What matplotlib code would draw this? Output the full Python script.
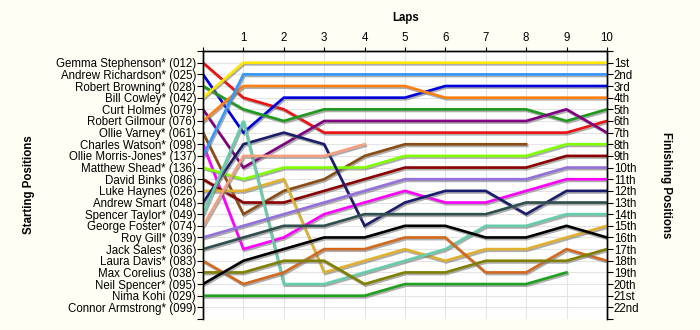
import matplotlib
matplotlib.use("Agg")
import matplotlib.pyplot as plt
import matplotlib.patheffects as pe

plt.rcParams["font.family"] = ["Liberation Sans", "DejaVu Sans"]

laps = list(range(0, 11))

drivers = [
    "Gemma Stephenson* (012)", "Andrew Richardson* (025)", "Robert Browning* (028)",
    "Bill Cowley* (042)", "Curt Holmes (079)", "Robert Gilmour (076)",
    "Ollie Varney* (061)", "Charles Watson* (098)", "Ollie Morris-Jones* (137)",
    "Matthew Shead* (136)", "David Binks (086)", "Luke Haynes (026)",
    "Andrew Smart (048)", "Spencer Taylor* (049)", "George Foster* (074)",
    "Roy Gill* (039)", "Jack Sales* (036)", "Laura Davis* (083)",
    "Max Corelius (038)", "Neil Spencer* (095)", "Nima Kohi (029)",
    "Connor Armstrong* (099)",
]

# position at the end of each lap (lap 0 = grid); short lists = retired
positions = [
    [1, 4, 5, 7, 7, 7, 7, 7, 7, 7, 6],
    [2, 7, 4, 4, 4, 4, 3, 3, 3, 3, 3],
    [3, 5, 6, 5, 5, 5, 5, 5, 5, 6, 5],
    [4, 1, 1, 1, 1, 1, 1, 1, 1, 1, 1],
    [5, 10, 8, 6, 6, 6, 6, 6, 6, 5, 7],
    [6, 3, 3, 3, 3, 3, 4, 4, 4, 4, 4],
    [7, 14, 12, 11, 9, 8, 8, 8, 8],
    [8, 17, 16, 14, 13, 12, 13, 13, 12, 11, 11],
    [9, 2, 2, 2, 2, 2, 2, 2, 2, 2, 2],
    [10, 11, 10, 10, 10, 9, 9, 9, 9, 8, 8],
    [11, 13, 13, 12, 11, 10, 10, 10, 10, 9, 9],
    [12, 12, 11, 19, 18, 17, 18, 17, 17, 16, 15],
    [13, 8, 7, 8, 15, 13, 12, 12, 14, 12, 12],
    [14, 6, 20, 20, 19, 18, 17, 15, 15, 14, 14],
    [15, 9, 9, 9, 8],
    [16, 15, 14, 13, 12, 11, 11, 11, 11, 10, 10],
    [17, 16, 15, 15, 14, 14, 14, 14, 13, 13, 13],
    [18, 20, 19, 17, 17, 16, 16, 19, 19, 17, 18],
    [19, 19, 18, 18, 20, 19, 19, 18, 18, 18, 17],
    [20, 18, 17, 16, 16, 15, 15, 16, 16, 15, 16],
    [21, 21, 21, 21, 21, 20, 20, 20, 20, 19],
    [],
]

colors = [
    "#ee1111", "#0000dd", "#1f9a1f", "#ffe600", "#800080", "#ff8010",
    "#8b4c13", "#ff00ff", "#3399ff", "#80ff00", "#8b0000", "#e0b030",
    "#1c1c6c", "#66cdaa", "#f4a080", "#9370db", "#2f4f4f", "#d2691e",
    "#808000", "#000000", "#1fa01f", "#888888",
]

finish_labels = ["1st", "2nd", "3rd", "4th", "5th", "6th", "7th", "8th", "9th",
                 "10th", "11th", "12th", "13th", "14th", "15th", "16th", "17th",
                 "18th", "19th", "20th", "21st", "22nd"]

bg = "#fffef4"
fs = 8.3
fig = plt.figure(figsize=(7, 3.3), dpi=100, facecolor=bg)
ax = fig.add_axes([0.29, 0.0333, 0.577, 0.812])
ax.set_facecolor("white")

n = len(drivers)
ax.set_xlim(0, 10)
ax.set_ylim(n + 1, 0)

for x in laps[1:]:
    ax.axvline(x, color="#e4e4e4", lw=0.8, zorder=0)
for y in range(1, n + 1):
    ax.axhline(y, color="#e4e4e4", lw=0.8, zorder=0)

shadow = [pe.SimpleLineShadow(offset=(0.8, -1.2), shadow_color="#777777", alpha=0.6),
          pe.Normal()]
for pos, c in zip(positions, colors):
    if not pos:
        continue
    ax.plot(laps[:len(pos)], pos, color=c, lw=1.9, solid_joinstyle="miter",
            path_effects=shadow, zorder=3)

# left: grid order
ax.set_yticks(range(0, n + 2))
ax.set_yticklabels([""] + drivers + [""], fontsize=fs)
# top: laps
ax.xaxis.tick_top()
ax.set_xticks(laps)
ax.set_xticklabels([""] + [str(l) for l in laps[1:]], fontsize=fs)
ax.tick_params(axis="x", length=3, pad=2, width=0.8)
ax.tick_params(axis="y", length=4, pad=1, width=0.8)

ax2 = ax.twinx()
ax2.set_ylim(n + 1, 0)
ax2.set_yticks(range(0, n + 2))
ax2.set_yticklabels([""] + finish_labels + [""], fontsize=fs)
ax2.tick_params(axis="y", length=4, pad=1, width=0.8)

for a in (ax, ax2):
    a.spines["bottom"].set_visible(False)
    for s in ("top", "left", "right"):
        a.spines[s].set_linewidth(1.0)

fig.text(0.579, 0.945, "Laps", ha="center", va="center", fontsize=fs, fontweight="bold")
fig.text(0.042, 0.44, "Starting Positions", ha="center", va="center", rotation=90,
         fontsize=fs, fontweight="bold")
fig.text(0.951, 0.44, "Finishing Positions", ha="center", va="center", rotation=-90,
         fontsize=fs, fontweight="bold")

fig.savefig("out.png", dpi=100, facecolor=bg)
